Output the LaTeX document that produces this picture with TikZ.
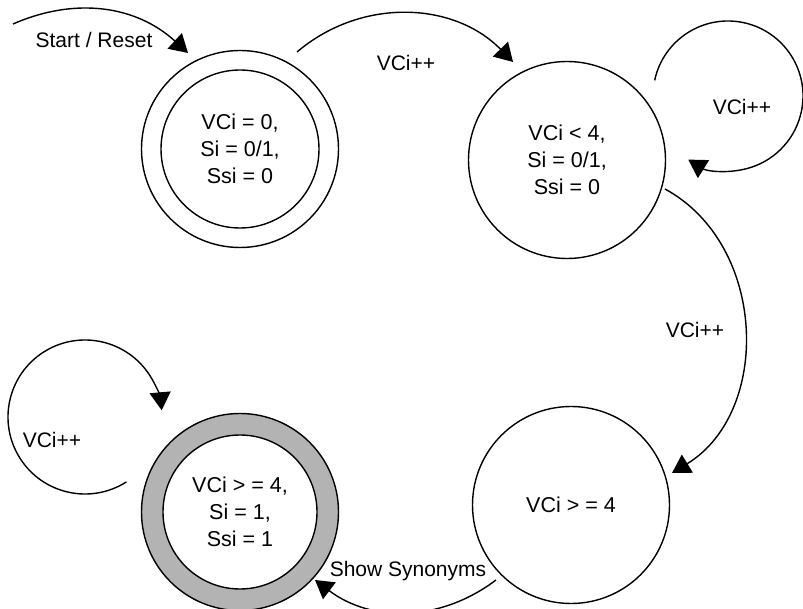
\documentclass[tikz,border=0pt]{standalone}
\usepackage{fontspec}
\setmainfont{Liberation Sans}
\usetikzlibrary{arrows.meta,calc}
\definecolor{ringgray}{RGB}{179,179,179}
\begin{document}
\begin{tikzpicture}[x=1pt,y=1pt,
  state/.style={circle,draw,line width=1.4pt,minimum size=197pt,inner sep=0pt,align=center,font=\fontsize{21.5}{27}\selectfont},
  ringstate/.style={state,path picture={\draw[line width=1.4pt] (path picture bounding box.center) circle[radius=79];}},
  finalstate/.style={state,fill=ringgray,path picture={\fill[white,draw=black,line width=1.4pt] (path picture bounding box.center) circle[radius=77];}},
  conn/.style={line width=1.4pt,-{Triangle[length=18pt,width=21pt]}},
  lbl/.style={font=\fontsize{21}{25}\selectfont,inner sep=0pt}]
\useasboundingbox (0,0) rectangle (803,608);

\node[ringstate]  (s1) at (240,459) {VCi = 0,\\Si = 0/1,\\Ssi = 0};
\node[state]      (s2) at (567,448) {VCi < 4,\\Si = 0/1,\\Ssi = 0};
\node[state]      (s3) at (571,103) {VCi > = 4};
\node[finalstate] (s4) at (240,96)  {VCi > = 4,\\Si = 1,\\Ssi = 1};

\coordinate (st) at (13,584);
\draw[conn] (st) to[bend left=33] ($(s1)+(-52,96)$);
\draw[conn] ($(s1)+(57,97)$) to[bend left=43] ($(s2)+(-54,98)$);
\draw[conn] ($(s2)+(161,64)+(168:75)$) arc[start angle=168,end angle=-122,radius=75];
\draw[conn] ($(s2)+(98,-29)$) to[bend left=60,looseness=1.05] ($(s3)+(101,32)$);
\draw[conn] ($(s3)+(-75,-75)$) to[bend left=37] ($(s4)+(75,-68)$);
\draw[conn] ($(s4)+(-155,95)+(-57.5:77)$) arc[start angle=-57.5,end angle=-355,radius=77];

\node[lbl] (lstart) at (94,568) {Start / Reset};
\node[lbl] (l12) at (406,545) {VCi++};
\node[lbl] (l22) at (742,501) {VCi++};
\node[lbl] (l23) at (695,278) {VCi++};
\node[lbl] (l34) at (408,37) {Show Synonyms};
\node[lbl] (l44) at (52,168) {VCi++};
\end{tikzpicture}
\end{document}
